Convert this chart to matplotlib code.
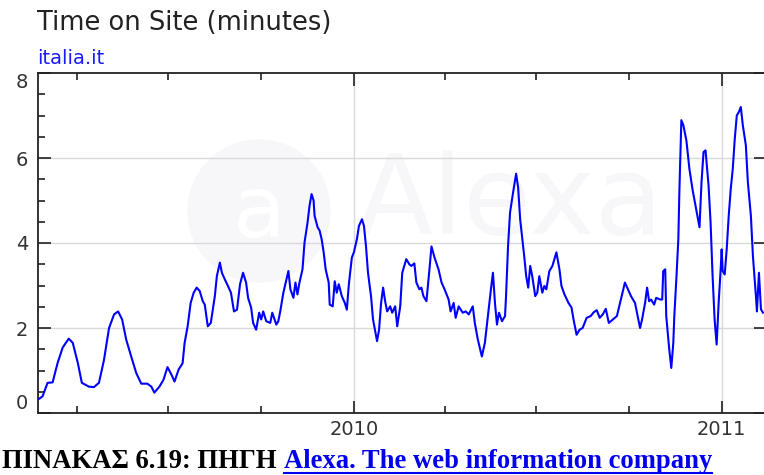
import numpy as np
import pandas as pd
import matplotlib
matplotlib.use("Agg")
import matplotlib.pyplot as plt
import matplotlib.dates as mdates
from matplotlib.patches import Ellipse
from matplotlib.lines import Line2D

# days counted from 2010-01-01
days = [-314, -309, -304, -299, -294, -289, -283, -279, -274, -270, -263, -258,
        -253, -248, -243, -238, -234, -230, -226, -221, -216, -211, -205, -201,
        -198, -193, -189, -185, -181, -178, -174, -170, -168, -165, -162, -159,
        -156, -153, -150, -148, -145, -142, -138, -136, -133, -131, -128, -125,
        -122, -119, -116, -113, -110, -107, -105, -102, -100, -97, -94, -92,
        -90, -87, -83, -81, -77, -75, -73, -70, -67, -65, -63, -60, -58, -56,
        -54, -51, -49, -46, -44, -42, -40, -39, -36, -34, -32, -30, -28, -25,
        -24, -21, -19, -17, -15, -12, -9, -7, -5, -2, 0, 3, 5, 8, 10, 12, 14,
        17, 19, 23, 25, 27, 29, 31, 33, 36, 38, 41, 43, 46, 48, 52, 55, 57, 60,
        62, 65, 67, 69, 72, 75, 77, 80, 84, 87, 90, 94, 96, 99, 101, 104, 108,
        111, 114, 118, 120, 123, 127, 130, 133, 136, 138, 140, 142, 144, 147,
        150, 151, 153, 155, 158, 161, 163, 165, 169, 171, 173, 175, 177, 180,
        182, 184, 187, 189, 191, 194, 197, 201, 204, 206, 209, 213, 216, 218,
        221, 224, 227, 231, 235, 238, 241, 244, 247, 250, 253, 257, 261, 265,
        269, 272, 275, 279, 282, 284, 286, 289, 291, 293, 295, 298, 300, 304,
        306, 307, 309, 310, 313, 315, 317, 318, 320, 322, 323, 325, 327, 330,
        333, 336, 339, 342, 343, 345, 347, 349, 352, 354, 356, 358, 360, 362,
        364, 365, 366, 368, 370, 372, 374, 376, 378, 380, 382, 384, 386, 389,
        391, 394, 396, 399, 400, 402, 404, 406]
minutes = [0.31, 0.39, 0.71, 0.72, 1.18, 1.54, 1.75, 1.65, 1.18, 0.71, 0.62, 0.61,
           0.71, 1.25, 2.0, 2.32, 2.39, 2.2, 1.73, 1.33, 0.94, 0.69, 0.69, 0.62,
           0.48, 0.62, 0.78, 1.08, 0.9, 0.74, 1.02, 1.17, 1.65, 2.04, 2.59, 2.83,
           2.95, 2.87, 2.63, 2.55, 2.04, 2.12, 2.75, 3.22, 3.54, 3.30, 3.14, 2.99,
           2.83, 2.39, 2.43, 3.03, 3.30, 3.07, 2.71, 2.48, 2.12, 1.96, 2.36, 2.2,
           2.39, 2.16, 2.12, 2.36, 2.08, 2.16, 2.4, 2.83, 3.14, 3.34, 2.91, 2.71,
           3.07, 2.79, 3.07, 3.38, 4.01, 4.48, 4.88, 5.15, 5.0, 4.64, 4.37, 4.29,
           4.09, 3.78, 3.38, 3.07, 2.55, 2.51, 3.10, 2.83, 3.03, 2.75, 2.59, 2.43,
           3.03, 3.66, 3.78, 4.09, 4.40, 4.56, 4.40, 3.93, 3.30, 2.75, 2.20, 1.69,
           1.96, 2.59, 2.95, 2.63, 2.39, 2.51, 2.36, 2.51, 2.04, 2.51, 3.30, 3.62,
           3.50, 3.46, 3.52, 3.07, 2.91, 2.95, 2.75, 2.63, 3.38, 3.92, 3.66, 3.38,
           3.07, 2.91, 2.67, 2.39, 2.59, 2.24, 2.51, 2.36, 2.39, 2.32, 2.51, 2.12,
           1.73, 1.33, 1.65, 2.28, 2.91, 3.30, 2.59, 2.08, 2.36, 2.16, 2.28, 2.75,
           3.93, 4.72, 5.19, 5.63, 5.31, 4.56, 3.70, 3.22, 2.95, 3.46, 3.22, 2.75,
           2.83, 3.22, 2.83, 2.99, 2.91, 3.34, 3.46, 3.78, 3.38, 2.99, 2.79, 2.59,
           2.48, 2.20, 1.84, 1.96, 2.00, 2.24, 2.28, 2.37, 2.42, 2.24, 2.32, 2.45,
           2.12, 2.20, 2.28, 2.67, 3.07, 2.91, 2.75, 2.59, 2.24, 2.0, 2.20, 2.59,
           2.95, 2.63, 2.67, 2.55, 2.71, 2.67, 2.67, 3.34, 3.38, 2.28, 1.49, 1.06,
           1.65, 2.28, 3.14, 4.09, 5.19, 6.89, 6.77, 6.41, 5.74, 5.27, 4.88, 4.48,
           4.37, 5.43, 6.14, 6.18, 5.35, 4.48, 3.22, 2.20, 1.61, 2.59, 3.38, 3.85,
           3.34, 3.26, 3.85, 4.64, 5.27, 5.74, 6.45, 7.0, 7.08, 7.20, 6.77, 6.30,
           5.43, 4.64, 3.70, 2.75, 2.39, 3.30, 2.44, 2.36]

year_ticks = ["2010", "2011"]
y_ticks = [0, 2, 4, 6, 8]

start = pd.Timestamp("2010-01-01")
dates = start + pd.to_timedelta(days, unit="D")

fig = plt.figure(figsize=(7.64, 4.75), dpi=100)
ax = fig.add_axes([38 / 764, 62 / 475, 728 / 764, 340 / 475])
ax.set_zorder(2)
ax.patch.set_alpha(0)

# faint Alexa watermark behind the axes
wm = "#f7f7fa"
fig.patches.append(Ellipse((259 / 764, 1 - 211 / 475), 142 / 764, 142 / 475,
                           transform=fig.transFigure, color=wm, zorder=0))
fig.text(259 / 764, 1 - 214 / 475, "a", color="white", fontsize=62,
         ha="center", va="center", zorder=0.5)
fig.text(510 / 764, 1 - 203 / 475, "Alexa", color=wm, fontsize=80,
         ha="center", va="center", zorder=0.5)

ax.plot(dates, minutes, color="#0000ff", lw=1.5, zorder=3)

ax.set_xlim(start + pd.Timedelta(days=-313.5), start + pd.Timedelta(days=409))
ax.set_ylim(0, 8)

ax.set_xticks([pd.Timestamp(y + "-01-01") for y in year_ticks])
ax.set_xticklabels(year_ticks)
ax.xaxis.set_minor_locator(mdates.MonthLocator(bymonth=[4, 7, 10]))
ax.set_yticks(y_ticks)
ax.set_yticks(np.arange(0, 8.01, 0.5), minor=True)

for lbl, v in zip(ax.set_yticklabels([str(v) for v in y_ticks]), y_ticks):
    if v == 0:
        lbl.set_va("bottom")
    elif v == 8:
        lbl.set_va("top")

ax.tick_params(which="both", direction="in", colors="#222222", width=1.2,
               labelcolor="#333333", labelsize=14, top=True, right=True)
ax.tick_params(which="major", length=9)
ax.tick_params(which="minor", length=5)
ax.tick_params(axis="y", which="minor", right=False)
ax.tick_params(axis="x", pad=5)
ax.tick_params(axis="y", pad=7)

for v in [2, 4, 6]:
    ax.axhline(v, color="#d9d9d9", lw=1.0, zorder=1)
for y in year_ticks:
    ax.axvline(pd.Timestamp(y + "-01-01"), color="#d9d9d9", lw=1.0, zorder=1)

for s in ax.spines.values():
    s.set_color("#222222")
    s.set_linewidth(1.3)

fig.text(37 / 764, 1 - 23 / 475, "Time on Site (minutes)", fontsize=18.5,
         color="#222222", va="center", ha="left")
fig.text(37 / 764, 1 - 58 / 475, "italia.it", fontsize=14,
         color="#1a1aff", va="center", ha="left")

# caption with underlined link
cap1 = fig.text(0.003, 1 - 468 / 475, "ΠΙΝΑΚΑΣ 6.19: ΠΗΓΗ ", fontsize=19.2,
                family="Liberation Serif", weight="bold", color="black",
                va="baseline", ha="left")
fig.canvas.draw()
r = fig.canvas.get_renderer()
bb = cap1.get_window_extent(r)
cap2 = fig.text(bb.x1 / fig.bbox.width, 1 - 468 / 475,
                "Alexa. The web information company", fontsize=19.2,
                family="Liberation Serif", weight="bold", color="#0000ee",
                va="baseline", ha="left")
fig.canvas.draw()
bb2 = cap2.get_window_extent(r)
uy = 1 - 472.5 / 475
fig.lines.append(Line2D([bb2.x0 / fig.bbox.width, bb2.x1 / fig.bbox.width],
                        [uy, uy], transform=fig.transFigure,
                        color="#0000ee", lw=1.5))

fig.savefig("out.png", dpi=100)
